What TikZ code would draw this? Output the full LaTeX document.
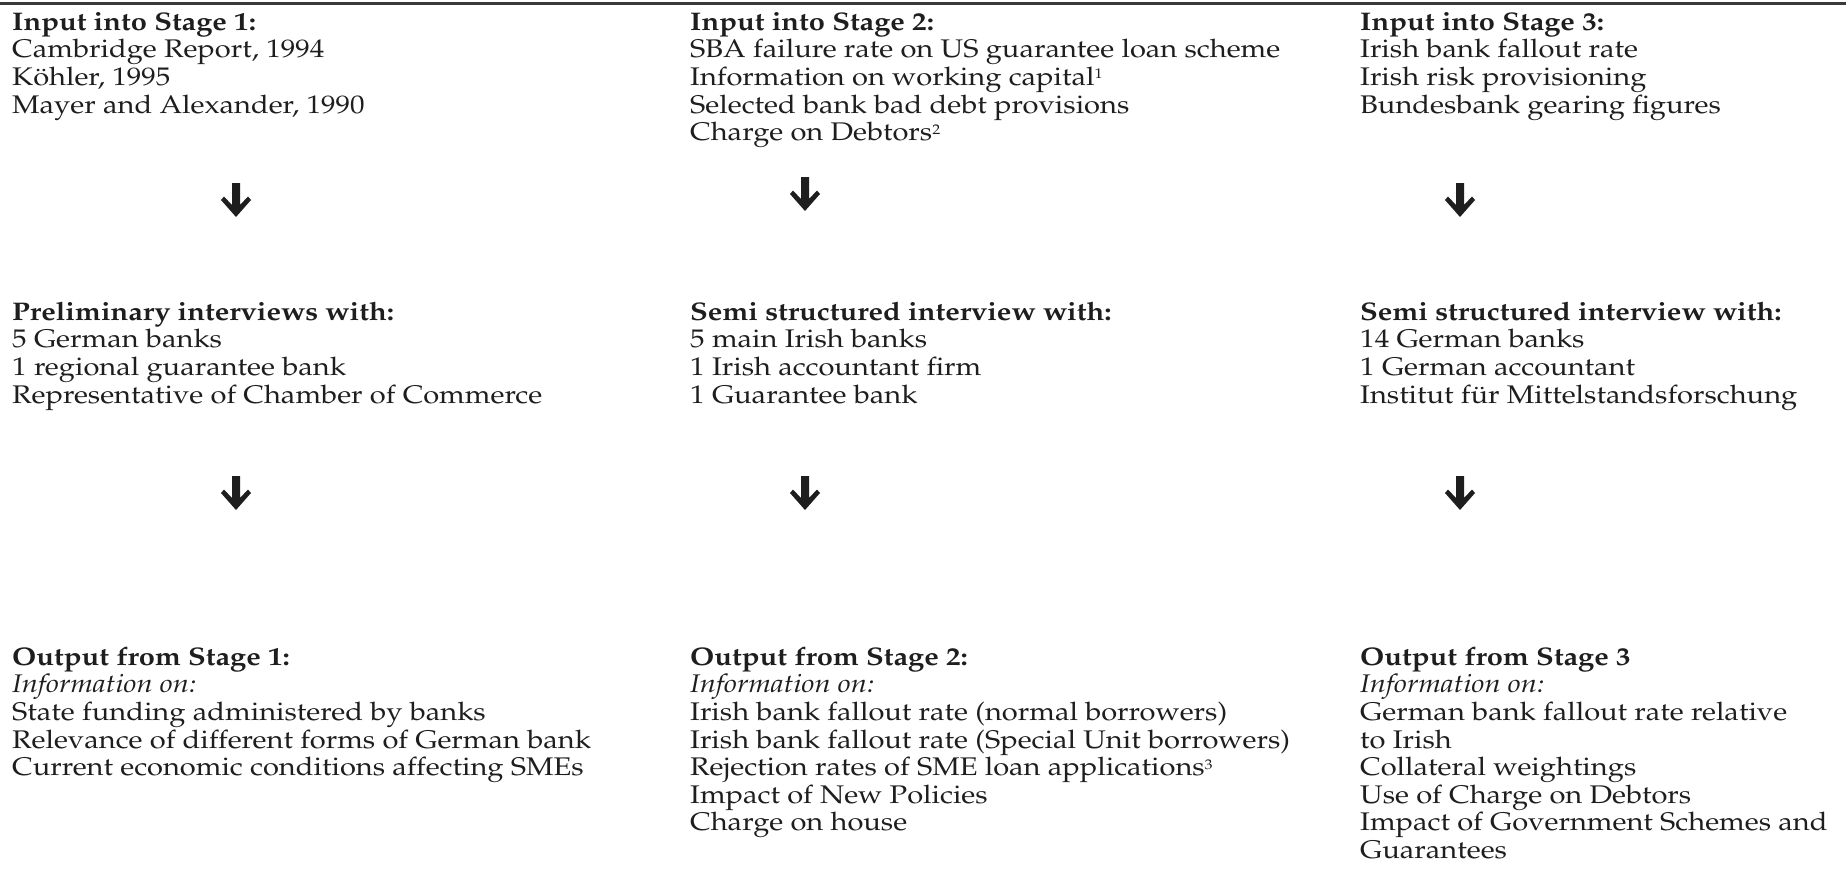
\documentclass[tikz,border=0pt]{standalone}
\usepackage[T1]{fontenc}
\usepackage{mathpazo}
\definecolor{ink}{HTML}{1E1E1E}
\definecolor{rulecol}{HTML}{3A3A3A}
\newcommand\wide[1]{\scalebox{1.14}[1]{\begin{tabular}{@{}l@{}}#1\end{tabular}}}
\newcommand\fnmark[1]{\raisebox{6.5pt}{\fontsize{14pt}{14pt}\selectfont #1}}
\tikzset{
  blk/.style={anchor=north west, inner sep=0pt, text=ink,
    font=\fontsize{25.5pt}{27.6pt}\selectfont},
  bigarrow/.pic={\fill[ink] (-4,-17) -- (4,-17) -- (4,5) -- (12,-3.5) -- (15,0) -- (0,17) -- (-15,0) -- (-12,-3.5) -- (-4,5) -- cycle;}
}
\begin{document}
\begin{tikzpicture}[x=1pt,y=-1pt]
\useasboundingbox (0,0) rectangle (1846,891);
\fill[white] (0,0) rectangle (1846,891);
\coordinate (rl) at (0,3.5);
\coordinate (rr) at (1846,3.5);
\draw[rulecol, line width=2.5pt] (rl) -- (rr);

% Row 1 (first baseline 30)
\node[blk] (in1) at (12,10.7) {\wide{\textbf{Input into Stage 1:}\\
Cambridge Report, 1994\\
K\"{o}hler, 1995\\
Mayer and Alexander, 1990}};
\node[blk] (in2) at (690,10.7) {\wide{\textbf{Input into Stage 2:}\\
SBA failure rate on US guarantee loan scheme\\
Information on working capital\fnmark{1}\\
Selected bank bad debt provisions\\
Charge on Debtors\fnmark{2}}};
\node[blk] (in3) at (1360,10.7) {\wide{\textbf{Input into Stage 3:}\\
Irish bank fallout rate\\
Irish risk provisioning\\
Bundesbank gearing figures}};

% Row 2 (first baseline 320)
\node[blk] (iv1) at (12,300.7) {\wide{\textbf{Preliminary interviews with:}\\
5 German banks\\
1 regional guarantee bank\\
Representative of Chamber of Commerce}};
\node[blk] (iv2) at (690,300.7) {\wide{\textbf{Semi structured interview with:}\\
5 main Irish banks\\
1 Irish accountant firm\\
1 Guarantee bank}};
\node[blk] (iv3) at (1360,300.7) {\wide{\textbf{Semi structured interview with:}\\
14 German banks\\
1 German accountant\\
Institut f\"{u}r Mittelstandsforschung}};

% Row 3 (first baseline 665)
\node[blk] (out1) at (12,645.7) {\wide{\textbf{Output from Stage 1:}\\
\textit{Information on:}\\
State funding administered by banks\\
Relevance of different forms of German bank\\
Current economic conditions affecting SMEs}};
\node[blk] (out2) at (690,645.7) {\wide{\textbf{Output from Stage 2:}\\
\textit{Information on:}\\
Irish bank fallout rate (normal borrowers)\\
Irish bank fallout rate (Special Unit borrowers)\\
Rejection rates of SME loan applications\fnmark{3}\\
Impact of New Policies\\
Charge on house}};
\node[blk] (out3) at (1360,645.7) {\wide{\textbf{Output from Stage 3}\\
\textit{Information on:}\\
German bank fallout rate relative\\
to Irish\\
Collateral weightings\\
Use of Charge on Debtors\\
Impact of Government Schemes and\\
Guarantees}};

% Arrows
\pic at (236,200) {bigarrow};
\pic at (805,194) {bigarrow};
\pic at (1460,200) {bigarrow};
\pic at (236,493) {bigarrow};
\pic at (805,493) {bigarrow};
\pic at (1460,493) {bigarrow};
\end{tikzpicture}
\end{document}
